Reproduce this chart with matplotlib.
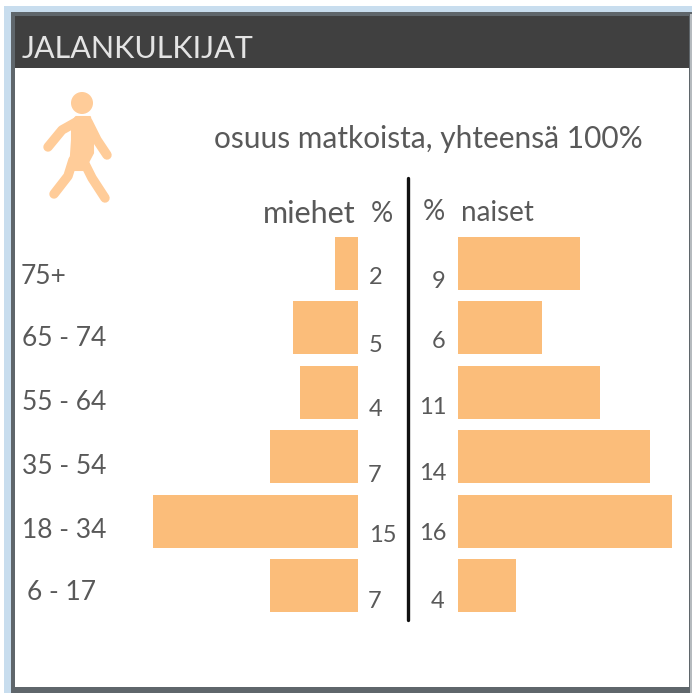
import matplotlib
matplotlib.use("Agg")
import matplotlib.pyplot as plt
from matplotlib.patches import Rectangle, Circle, Polygon

W, H = 692, 693
categories = ["75+", "65 - 74", "55 - 64", "35 - 54", "18 - 34", "6 - 17"]
men_labels = [2, 5, 4, 7, 15, 7]
women_labels = [9, 6, 11, 14, 16, 4]
men_bars = [1.7, 4.77, 4.27, 6.45, 15.0, 6.45]
women_bars = [9.1, 6.25, 10.6, 14.37, 16.0, 4.37]
BAR = "#FBBD7A"
TXT = "#595959"
plt.rcParams["font.family"] = ["Lato", "DejaVu Sans"]

fig = plt.figure(figsize=(W / 100, H / 100), dpi=100, facecolor="white")

# pixel-coordinate layer for the frame, icon and text
bg = fig.add_axes([0, 0, 1, 1])
bg.set_xlim(0, W); bg.set_ylim(H, 0); bg.axis("off")
bg.add_patch(Rectangle((0, 0), W, H, fc="white", ec="none"))
bg.add_patch(Rectangle((4, 6), W - 4, H - 6, fc="#C8DDEE", ec="none"))
bg.add_patch(Rectangle((11, 12), W - 11, H - 12, fc="#5F666B", ec="none"))
bg.add_patch(Rectangle((690, 14), 2, H - 14, fc="#B5BABE", ec="none"))
bg.add_patch(Rectangle((15, 68), 674, 619, fc="white", ec="none"))
bg.add_patch(Rectangle((15, 16), 674, 52, fc="#404040", ec="none"))
bg.text(22, 49, "JALANKULKIJAT", color="#E4E4E4", fontsize=22, va="center", ha="left")

# walking figure
ICON = "#FFCC99"
bg.add_patch(Circle((82, 103), 11, fc=ICON, ec="none"))
bg.add_patch(Polygon(
    [(76, 117), (90, 117), (93, 135), (93, 153), (84, 170), (76, 170), (70, 170), (72, 140), (72, 122)],
    closed=True, fc=ICON, ec=ICON, lw=1.5, joinstyle="round"))
for xs, ys in [
    ([78, 62, 48], [121, 130, 147]),
    ([88, 97, 107], [122, 140, 155]),
    ([73, 68, 54], [160, 176, 194]),
    ([83, 92, 105], [160, 178, 198]),
]:
    bg.plot(xs, ys, color=ICON, lw=6.8, solid_capstyle="round", solid_joinstyle="round")

bg.text(428, 139, "osuus matkoista, yhteensä 100%", color=TXT, fontsize=21.5, ha="center", va="center")
bg.text(309, 214, "miehet", color=TXT, fontsize=22, ha="center", va="center")
bg.text(382, 214, "%", color=TXT, fontsize=20, ha="center", va="center")
bg.text(434, 212, "%", color=TXT, fontsize=20, ha="center", va="center")
bg.text(497, 213, "naiset", color=TXT, fontsize=20, ha="center", va="center")
bg.plot([408, 408], [178, 620], color="#111111", lw=2.4, solid_capstyle="round")

cat_xy = [(21, 276), (22, 339), (22, 403), (22, 467), (22, 531), (27, 593)]
for (x, y), c in zip(cat_xy, categories):
    bg.text(x, y, c, color=TXT, fontsize=19, ha="left", va="center")
men_xy = [(376, 278), (376, 345), (376, 410), (375, 475), (383, 536), (375, 601)]
for (x, y), v in zip(men_xy, men_labels):
    bg.text(x, y, str(v), color=TXT, fontsize=17, ha="center", va="center")
women_xy = [(439, 281), (439, 341), (433, 408), (433, 474), (433, 534), (438, 601)]
for (x, y), v in zip(women_xy, women_labels):
    bg.text(x, y, str(v), color=TXT, fontsize=17, ha="center", va="center")

# bars
y0, y1 = 231.3, 617.7
pos = list(range(len(categories)))
def panel(x0, x1, vals, xlim):
    ax = fig.add_axes([x0 / W, 1 - y1 / H, (x1 - x0) / W, (y1 - y0) / H])
    ax.patch.set_alpha(0)
    ax.barh(pos, vals, height=0.825, color=BAR, ec="none")
    ax.set_xlim(*xlim); ax.set_ylim(5.5, -0.5); ax.axis("off")
panel(153, 358, men_bars, (15, 0))
panel(458, 672, women_bars, (0, 16))

fig.savefig("out.png", dpi=100, facecolor="white")
